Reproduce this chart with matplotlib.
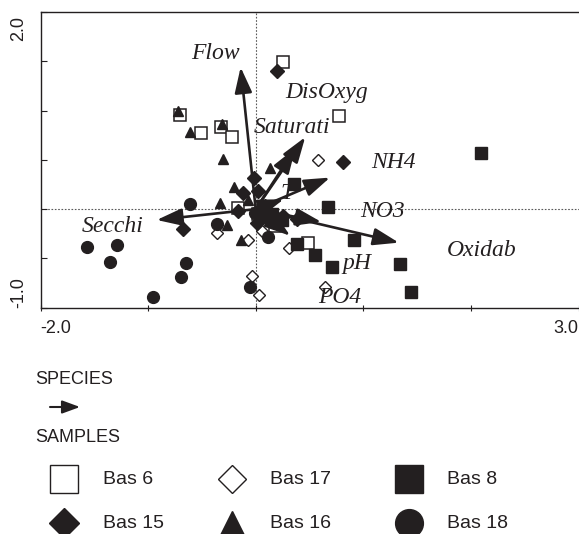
import numpy as np
import matplotlib.pyplot as plt

# sample scores (axis 1, axis 2)
bas6_x = [0.25, -0.70, -0.51, -0.32, -0.22, 0.77, -0.16, 0.02, 0.49, 0.18]
bas6_y = [1.49, 0.96, 0.77, 0.83, 0.73, 0.94, 0.01, -0.05, -0.34, -0.17]
bas17_x = [0.58, -0.36, -0.07, -0.03, 0.03, 0.06, 0.31, 0.64, 0.11]
bas17_y = [0.50, -0.24, -0.31, -0.68, -0.87, -0.22, -0.39, -0.79, -0.09]
bas8_x = [2.09, 0.36, 0.67, 0.91, 0.38, 0.55, 0.71, 1.34, 1.44, 0.15, 0.24]
bas8_y = [0.57, 0.25, 0.02, -0.31, -0.35, -0.47, -0.59, -0.56, -0.84, -0.05, -0.11]
bas15_x = [0.20, 0.81, -0.02, -0.12, 0.02, -0.16, -0.68, 0.01, 0.25, 0.38, 0.09]
bas15_y = [1.40, 0.48, 0.32, 0.16, 0.18, -0.02, -0.20, -0.14, -0.07, -0.10, 0.03]
bas16_x = [-0.72, -0.61, -0.31, -0.30, 0.13, -0.20, -0.33, -0.27, -0.14, -0.07]
bas16_y = [1.00, 0.78, 0.86, 0.51, 0.42, 0.22, 0.06, -0.16, -0.31, 0.09]
bas18_x = [-1.57, -1.29, -1.35, -0.65, -0.69, -0.95, -0.61, -0.36, 0.11, -0.05, -0.01]
bas18_y = [-0.38, -0.36, -0.54, -0.55, -0.69, -0.89, 0.05, -0.15, -0.28, -0.79, -0.04]

# environmental variables: arrow tips and label positions
env_names = ["Flow", "DisOxyg", "Saturati", "NH4", "T", "NO3", "Oxidab", "pH", "PO4", "Secchi"]
env_x = [-0.14, 0.46, 0.37, 0.69, 0.26, 0.61, 1.33, 0.32, 0.22, -0.92]
env_y = [1.44, 0.73, 0.62, 0.32, 0.10, -0.13, -0.34, -0.27, -0.22, -0.11]
lab_x = [-0.37, 0.66, 0.34, 1.28, 0.29, 1.18, 2.10, 0.94, 0.78, -1.33]
lab_y = [1.58, 1.18, 0.83, 0.47, 0.16, -0.02, -0.42, -0.55, -0.90, -0.18]

legend_labels = ["Bas 6", "Bas 17", "Bas 8", "Bas 15", "Bas 16", "Bas 18"]

ink = "#231f20"
fig = plt.figure(figsize=(5.79, 5.34), dpi=100)

# legend area drawn in pixel coordinates
lax = fig.add_axes([0, 0, 1, 1], zorder=-1)
lax.set_xlim(0, 579)
lax.set_ylim(534, 0)
lax.axis("off")

ax = fig.add_axes([40.5 / 579, (534 - 307.7) / 534, 538 / 579, 295.7 / 534])
ax.set_xlim(-2, 3)
ax.set_ylim(-1, 2)
ax.set_xticks(np.arange(-2, 3.1, 1.0))
ax.set_yticks(np.arange(-1, 2.1, 0.5))
ax.set_xticklabels([])
ax.set_yticklabels([])
ax.tick_params(axis="x", direction="inout", length=5, width=0.8, colors=ink)
ax.tick_params(axis="y", direction="in", length=4, width=0.8, colors=ink)
for s in ax.spines.values():
    s.set_color(ink)
    s.set_linewidth(1.0)
ax.spines["right"].set_color("0.75")
ax.spines["right"].set_linewidth(0.6)

ax.axhline(0, ls=(0, (1.5, 1.5)), lw=0.8, color="0.35", zorder=1)
ax.axvline(0, ls=(0, (1.5, 1.5)), lw=0.8, color="0.35", zorder=1)

tick_font = dict(family="Liberation Sans", fontsize=13, color=ink)
ax.text(0, -0.04, "-2.0", transform=ax.transAxes, ha="left", va="top", **tick_font)
ax.text(1, -0.04, "3.0", transform=ax.transAxes, ha="right", va="top", **tick_font)
ax.text(-0.024, 0.985, "2.0", transform=ax.transAxes, ha="right", va="top", rotation=90, **tick_font)
ax.text(-0.024, 0.0, "-1.0", transform=ax.transAxes, ha="right", va="bottom", rotation=90, **tick_font)

ax.plot(bas6_x, bas6_y, "s", ms=8, mfc="white", mec=ink, mew=1.1, ls="none", zorder=3)
ax.plot(bas17_x, bas17_y, "D", ms=6.5, mfc="white", mec=ink, mew=1.0, ls="none", zorder=3)
ax.plot(bas8_x, bas8_y, "s", ms=8.5, color=ink, ls="none", zorder=3)
ax.plot(bas15_x, bas15_y, "D", ms=7, color=ink, ls="none", zorder=3)
ax.plot(bas16_x, bas16_y, "^", ms=7, color=ink, ls="none", zorder=3)
ax.plot(bas18_x, bas18_y, "o", ms=8.5, color=ink, ls="none", zorder=3)

for name, x, y, tx, ty in zip(env_names, env_x, env_y, lab_x, lab_y):
    ax.annotate("", xy=(x, y), xytext=(0, 0),
                arrowprops=dict(arrowstyle="-|>,head_length=0.65,head_width=0.22",
                                mutation_scale=24, lw=1.9, color=ink,
                                shrinkA=0, shrinkB=0), zorder=4)
    ax.text(tx, ty, name, ha="center", va="center", family="Liberation Serif",
            style="italic", fontsize=17, color=ink, zorder=5)

# legend
leg_font = dict(family="Liberation Sans", fontsize=13, color=ink, va="center")
lax.text(35, 380, "SPECIES", ha="left", **leg_font)
lax.annotate("", xy=(80, 407), xytext=(50, 407),
             arrowprops=dict(arrowstyle="-|>,head_length=0.6,head_width=0.22",
                             mutation_scale=18, lw=1.5, color=ink,
                             shrinkA=0, shrinkB=0))
lax.text(35, 437, "SAMPLES", ha="left", **leg_font)

marker_x = [64, 232, 409]
label_x = [103, 270, 447]
row_y = [479, 523]
styles = [
    dict(marker="s", ms=20, mfc="white", mec=ink, mew=1.0),
    dict(marker="D", ms=14, mfc="white", mec=ink, mew=1.0),
    dict(marker="s", ms=20, mfc=ink, mec=ink),
    dict(marker="D", ms=15, mfc=ink, mec=ink),
    dict(marker="^", ms=17, mfc=ink, mec=ink),
    dict(marker="o", ms=20, mfc=ink, mec=ink),
]
for i, lab in enumerate(legend_labels):
    r, c = divmod(i, 3)
    lax.plot(marker_x[c], row_y[r], ls="none", **styles[i])
    lax.text(label_x[c], row_y[r], lab, ha="left", fontsize=14,
             family="Liberation Sans", color=ink, va="center")

fig.savefig("out.png", dpi=100)
